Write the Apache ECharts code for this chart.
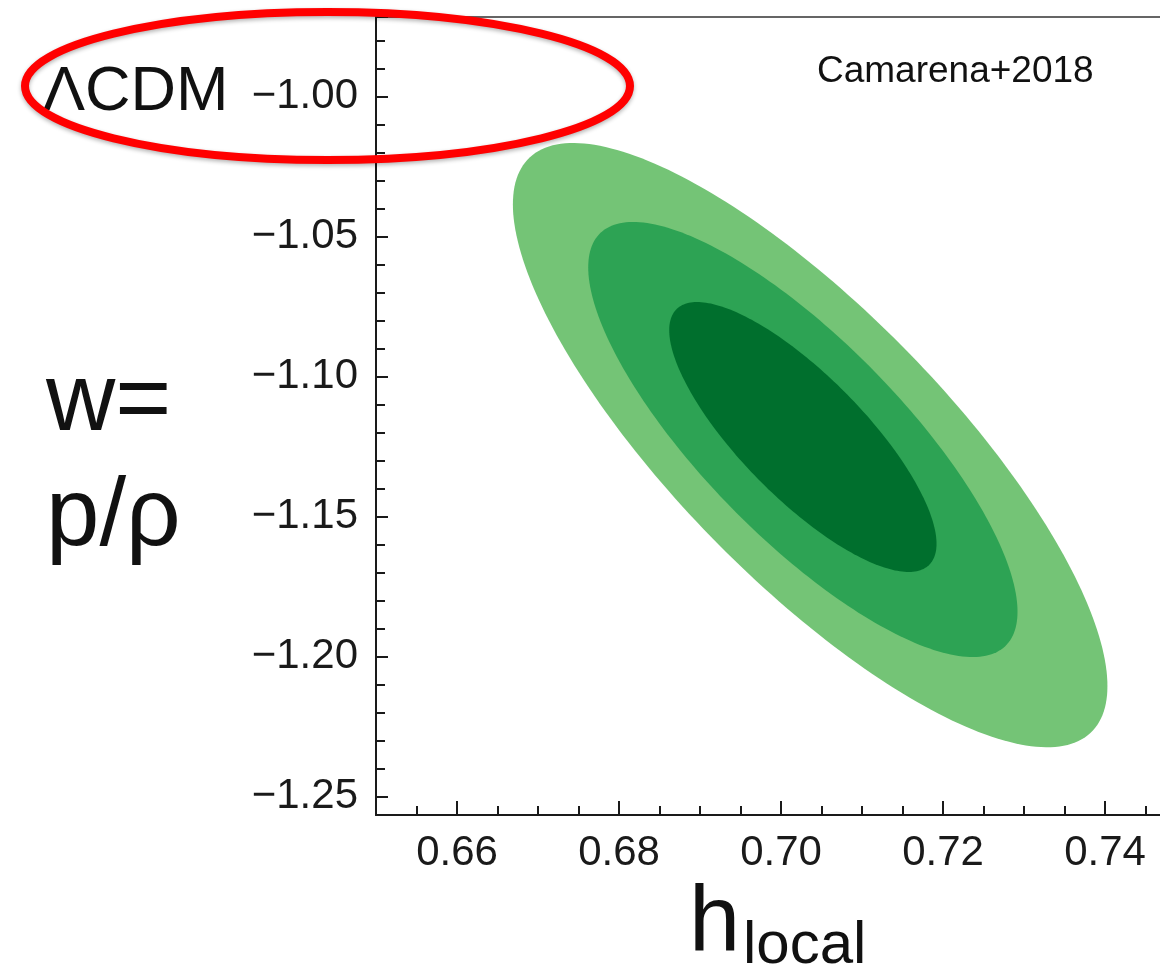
<!DOCTYPE html>
<html><head><meta charset="utf-8">
<script src="https://cdn.jsdelivr.net/npm/echarts@6/dist/echarts.min.js"></script>
<style>html,body{margin:0;padding:0;background:#fff}#chart{width:1160px;height:969px}</style>
</head><body><div id="chart"></div>
<script>
// Confidence contours (outer -> inner)
const contourNames = ['3σ', '2σ', '1σ'];
const contourCenterH = [0.7036, 0.7027, 0.7027];
const contourCenterW = [-1.1244, -1.1224, -1.1215];
const contourHalfWidthH = [0.0367, 0.0265, 0.0165];
const contourHalfHeightW = [0.1079, 0.0777, 0.0482];
const contourCorrelation = [-0.797, -0.791, -0.791];
const contourColors = ['#74c476', '#2da354', '#006f2d'];

const xTickLabels = ['0.66', '0.68', '0.70', '0.72', '0.74'];
const yTickLabels = ['−1.25', '−1.20', '−1.15', '−1.10', '−1.05', '−1.00'];

const xRange = [0.65, 0.76];
const yRange = [-1.2565, -0.9715];

const contourData = contourNames.map((n, i) => ({
  name: n,
  value: [contourCenterH[i], contourCenterW[i], contourHalfWidthH[i], contourHalfHeightW[i], contourCorrelation[i]]
}));

const chart = echarts.init(document.getElementById('chart'), null, {renderer: 'canvas'});
const axisColor = '#1a1a1a';
const labelFont = {fontFamily: 'Liberation Sans', fontSize: 42, color: '#1a1a1a'};

function fmtX(v) { const s = v.toFixed(2); return xTickLabels.includes(s) ? s : ''; }
function fmtY(v) { const s = (v < 0 ? '−' : '') + Math.abs(v).toFixed(2); return yTickLabels.includes(s) ? s : ''; }

chart.setOption({
  animation: false,
  backgroundColor: '#fff',
  grid: {left: 376, top: 17, right: -107, bottom: 154, show: true, borderColor: '#333', borderWidth: 1.5, backgroundColor: 'transparent', outerBoundsMode: 'none'},
  xAxis: {
    type: 'value', min: xRange[0], max: xRange[1], minInterval: 0.02, maxInterval: 0.02,
    axisLine: {show: true, lineStyle: {color: axisColor, width: 2}},
    axisTick: {show: true, inside: true, length: 14, lineStyle: {color: axisColor, width: 2}},
    minorTick: {show: true, splitNumber: 4, length: 9, lineStyle: {color: axisColor, width: 2}},
    splitLine: {show: false}, minorSplitLine: {show: false},
    axisLabel: Object.assign({margin: 17, showMinLabel: false, showMaxLabel: false, formatter: fmtX, hideOverlap: false}, labelFont)
  },
  yAxis: {
    type: 'value', min: yRange[0], max: yRange[1], minInterval: 0.05, maxInterval: 0.05,
    axisLine: {show: true, lineStyle: {color: axisColor, width: 2}},
    axisTick: {show: true, inside: true, length: 12, lineStyle: {color: axisColor, width: 2}},
    minorTick: {show: true, splitNumber: 5, length: 9, lineStyle: {color: axisColor, width: 2}},
    splitLine: {show: false}, minorSplitLine: {show: false},
    axisLabel: Object.assign({margin: 18, showMinLabel: false, showMaxLabel: false, formatter: fmtY, hideOverlap: false}, labelFont)
  },
  series: [{
    type: 'custom',
    data: contourData,
    encode: {x: 0, y: 1},
    clip: true,
    renderItem: function (params, api) {
      const cx = api.value(0), cy = api.value(1), rx = api.value(2), ry = api.value(3), rho = api.value(4);
      const s = Math.sqrt(1 - rho * rho);
      const pts = [];
      const n = 240;
      for (let i = 0; i < n; i++) {
        const t = 2 * Math.PI * i / n;
        pts.push(api.coord([cx + rx * Math.cos(t), cy + ry * (rho * Math.cos(t) + s * Math.sin(t))]));
      }
      return {type: 'polygon', shape: {points: pts}, style: {fill: contourColors[params.dataIndex], stroke: null}};
    }
  }],
  graphic: [
    {type: 'text', z: 50, style: {x: 43, y: 93, text: 'ΛCDM', font: '63px "Liberation Sans"', fill: '#111', textVerticalAlign: 'middle'}},
    {type: 'text', z: 50, style: {x: 46, y: 404, text: 'w=', font: '96px "Liberation Sans"', fill: '#111', textVerticalAlign: 'middle'}},
    {type: 'text', z: 50, style: {x: 46, y: 519, text: 'p/ρ', font: '96px "Liberation Sans"', fill: '#111', textVerticalAlign: 'middle'}},
    {type: 'text', z: 50, style: {x: 689, y: 925, text: 'h', font: '92px "Liberation Sans"', fill: '#111', textVerticalAlign: 'middle'}},
    {type: 'text', z: 50, style: {x: 743, y: 946, text: 'local', font: '60px "Liberation Sans"', fill: '#111', textVerticalAlign: 'middle'}},
    {type: 'text', z: 50, style: {x: 817, y: 72, text: 'Camarena+2018', font: '37px "Liberation Sans"', fill: '#111', textVerticalAlign: 'middle'}},
    {type: 'ellipse', z: 60, shape: {cx: 327.5, cy: 86, rx: 302.5, ry: 74},
     style: {fill: 'none', stroke: '#ff0000', lineWidth: 8, shadowBlur: 4, shadowOffsetY: 2, shadowColor: 'rgba(0,0,0,0.3)'}}
  ]
});
</script></body></html>
